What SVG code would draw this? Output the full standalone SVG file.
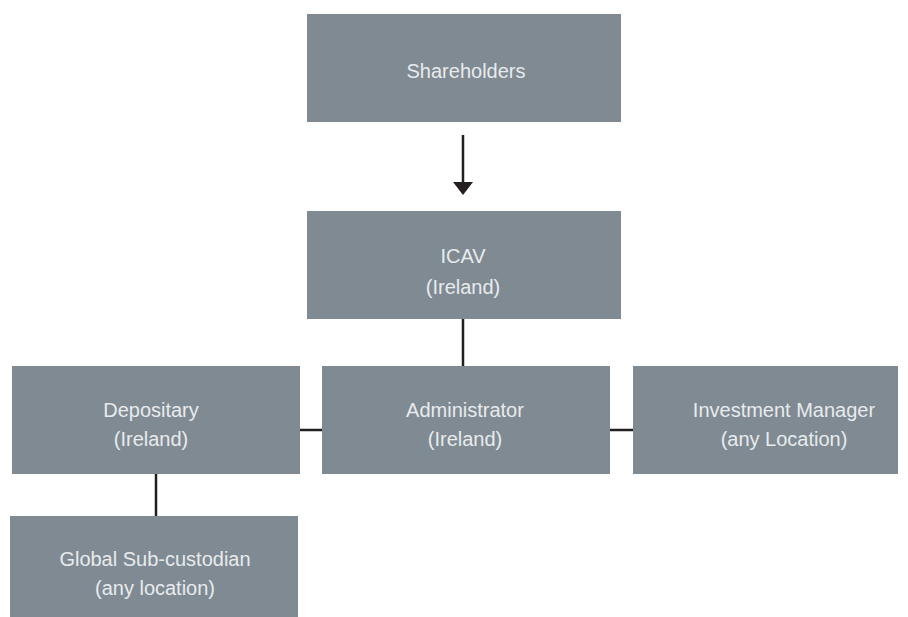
<svg xmlns="http://www.w3.org/2000/svg" width="908" height="617" viewBox="0 0 908 617">
<style>
.box{fill:#7f8a93}
.t{font-family:"Liberation Sans",Arial,sans-serif;font-size:20px;fill:#e8ebed;text-anchor:middle}
.c{stroke:#231f20;stroke-width:2.5;fill:none}
</style>
<rect width="908" height="617" fill="#ffffff"/>
<g id="connectors">
<line class="c" x1="463" y1="135" x2="463" y2="184"/>
<polygon points="453,182 473,182 463,195" fill="#231f20"/>
<line class="c" x1="463" y1="318" x2="463" y2="367"/>
<line class="c" x1="299" y1="430" x2="323" y2="430"/>
<line class="c" x1="609" y1="430" x2="634" y2="430"/>
<line class="c" x1="156" y1="473" x2="156" y2="517"/>
</g>
<g id="shareholders">
<rect class="box" x="307" y="14" width="314" height="108"/>
<text class="t" x="466" y="78">Shareholders</text>
</g>
<g id="icav">
<rect class="box" x="307" y="211" width="314" height="108"/>
<text class="t" x="463" y="263">ICAV</text>
<text class="t" x="463" y="294">(Ireland)</text>
</g>
<g id="depositary">
<rect class="box" x="12" y="366" width="288" height="108"/>
<text class="t" x="151" y="417">Depositary</text>
<text class="t" x="151" y="446">(Ireland)</text>
</g>
<g id="administrator">
<rect class="box" x="322" y="366" width="288" height="108"/>
<text class="t" x="465" y="417">Administrator</text>
<text class="t" x="465" y="446">(Ireland)</text>
</g>
<g id="investment-manager">
<rect class="box" x="633" y="366" width="265" height="108"/>
<text class="t" x="784" y="417">Investment Manager</text>
<text class="t" x="784" y="446">(any Location)</text>
</g>
<g id="global-sub-custodian">
<rect class="box" x="10" y="516" width="288" height="101"/>
<text class="t" x="155" y="566">Global Sub-custodian</text>
<text class="t" x="155" y="595">(any location)</text>
</g>
</svg>
